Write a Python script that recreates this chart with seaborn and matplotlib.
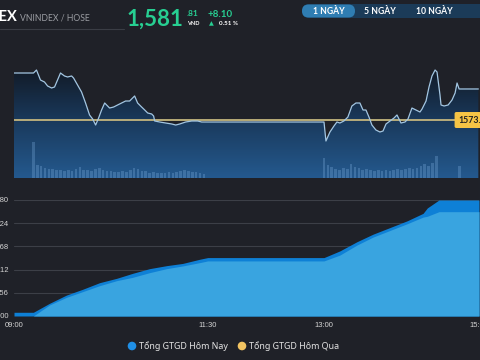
import numpy as np
import pandas as pd
import matplotlib
matplotlib.use("Agg")
import matplotlib.pyplot as plt
import seaborn as sns
from matplotlib.colors import LinearSegmentedColormap
from matplotlib.patches import Polygon, FancyBboxPatch, Circle
from matplotlib.transforms import IdentityTransform

# ---------------- data ----------------
# minutes after 09:00
price_minutes = [0, 15.1, 17.4, 20.5, 23.6, 26.0, 29.1, 31.4, 33.7, 36.0, 39.1, 41.5, 44.6, 46.1,
                 49.2, 52.3, 55.4, 58.5, 60.9, 63.2, 65.5, 67.8, 70.2, 74.0, 77.1, 80.2, 83.3,
                 86.4, 89.5, 93.4, 95.7, 98.8, 101.2, 103.5, 106.6, 108.1, 108.9, 112.8, 117.4,
                 122.1, 125.2, 128.3, 132.9, 137.6, 142.2, 145.3, 148.4, 240.0, 241.5, 244.6,
                 247.7, 250.0, 252.3, 255.4, 258.5, 261.6, 264.7, 267.8, 270.2, 272.5, 274.8,
                 277.1, 280.2, 283.3, 285.7, 288.0, 291.1, 294.2, 296.5, 299.6, 302.7, 305.0,
                 308.1, 311.2, 314.3, 315.9, 319.0, 321.3, 323.6, 326.0, 327.5, 329.8, 330.6,
                 333.0, 336.1, 339.1, 341.5, 343.0, 344.6, 359.5]
price_values = [1585.98, 1585.98, 1586.76, 1584.15, 1583.63, 1582.59, 1582.07, 1582.33, 1584.15,
                1585.98, 1585.20, 1584.94, 1585.20, 1584.68, 1582.85, 1581.02, 1578.15, 1575.02,
                1573.97, 1572.40, 1574.23, 1576.32, 1578.15, 1576.84, 1577.10, 1577.63, 1578.15,
                1578.67, 1578.67, 1579.98, 1578.15, 1577.10, 1576.32, 1575.54, 1575.28, 1574.75,
                1573.45, 1573.19, 1572.93, 1572.67, 1572.40, 1572.67, 1573.19, 1573.45, 1573.45,
                1573.19, 1573.19, 1573.19, 1568.23, 1570.58, 1572.14, 1573.19, 1572.93, 1573.45,
                1574.49, 1577.37, 1578.15, 1578.15, 1576.32, 1576.32, 1574.49, 1572.40, 1571.10,
                1570.58, 1570.84, 1572.67, 1573.45, 1574.23, 1575.02, 1572.93, 1573.19, 1573.97,
                1576.84, 1576.32, 1575.80, 1576.58, 1578.67, 1582.33, 1585.20, 1586.76, 1586.24,
                1580.24, 1577.63, 1577.37, 1577.63, 1578.93, 1580.76, 1583.37, 1581.81, 1581.81]
ref_price = 1573.71

vol_minutes_am = list(range(15, 148, 3))
vol_am = [18, 6.5, 6, 5, 4.5, 4.5, 4, 4, 3.5, 4, 3.5, 4.5, 5.5, 4, 4, 3.5, 4.5, 5, 4, 3.5,
          3.5, 3, 3, 3.5, 3, 4, 5, 4.5, 3.5, 3.5, 2.5, 3, 2.5, 2.5, 2.5, 3, 2.5, 3, 3.5, 4,
          3.5, 3, 3, 2.5, 2]
vol_minutes_pm = list(range(240, 328, 3)) + [345]
vol_pm = [10, 6.5, 5.5, 4.5, 4, 5, 4.5, 7, 5.5, 5, 4, 4.5, 4, 3.5, 4, 3.5, 4, 3.5, 4, 4.5,
          4, 4.5, 5, 4.5, 5, 6, 7, 6, 7.5, 11, 6]

total_minutes = [0, 15, 27.5, 40.7, 53.1, 66.3, 79.5, 91.9, 105, 118.2, 130.6, 143.8, 150,
                 240, 252.3, 265.5, 277.9, 291.1, 304.3, 316.7, 320, 329, 360]
total_today = [0.89, 0.89, 3.04, 5.03, 6.40, 7.99, 9.03, 10.23, 11.35, 12.07, 12.60, 13.60, 14.00,
               14.00, 15.60, 17.80, 19.60, 21.20, 22.80, 24.60, 25.90, 27.80, 27.80]
total_matched = [0, 0, 2.64, 4.48, 5.83, 7.27, 8.47, 9.27, 10.39, 11.35, 11.99, 12.79, 13.20,
                 13.20, 14.60, 17.00, 18.90, 20.50, 22.10, 23.70, 23.90, 25.00, 25.00]

y_ticks = [0, 5.56, 11.12, 16.68, 22.24, 27.80]
y_tick_labels = ["0.00", "5.56", "11.12", "16.68", "22.24", "27.80"]
x_ticks = [0, 150, 240, 360]
x_tick_labels = ["09:00", "11:30", "13:00", "15:00"]
legend_labels = ["Tổng GTGD Hôm Nay", "Tổng GTGD Hôm Qua"]
buttons = ["1 NGÀY", "5 NGÀY", "10 NGÀY", "1 THÁNG"]

# ---------------- style ----------------
BG = "#1f2128"
sns.set_theme(style="dark", rc={"figure.facecolor": BG, "axes.facecolor": BG,
                                "savefig.facecolor": BG})
plt.rcParams['font.family'] = ['Noto Sans', 'DejaVu Sans']
HEAD = ['Lato', 'DejaVu Sans']

W, H = 480, 360
fig = plt.figure(figsize=(4.8, 3.6), dpi=100)


def fx(x):
    return x / W


def fy(y):
    return 1 - y / H


# ---------------- upper chart ----------------
ax = fig.add_axes([fx(14), fy(178), fx(465), (178 - 65) / H])
ylo, yhi = 1558.57, 1588.07
ax.set_xlim(0, 360)
ax.set_ylim(ylo, yhi)
ax.set_facecolor("none")

cmap = LinearSegmentedColormap.from_list("g", ["#111823", "#1a3a5d", "#24598e"])
grad = np.linspace(0, 1, 200).reshape(-1, 1)
im = ax.imshow(grad, extent=[0, 360, ylo, yhi], cmap=cmap, aspect="auto",
               origin="upper", zorder=1)
verts = [(price_minutes[0], ylo)] + list(zip(price_minutes, price_values)) + [(price_minutes[-1], ylo)]
poly = Polygon(verts, closed=True, facecolor="none", edgecolor="none")
ax.add_patch(poly)
im.set_clip_path(poly)

ax.axhline(ref_price, color="#c4b67e", lw=1.3, zorder=3)
sns.lineplot(x=price_minutes, y=price_values, ax=ax, color="#a3c6e2", linewidth=0.9,
             zorder=4)
ax.annotate("1573.71", xy=(0.955, ref_price), xycoords=("axes fraction", "data"),
            ha="left", va="center", fontsize=6.3, fontweight="bold", color="#222222",
            family=HEAD,
            bbox=dict(boxstyle="round,pad=0.4,rounding_size=0.2", fc="#f6c445", ec="none"),
            annotation_clip=False, zorder=6)
ax.set_xticks([])
ax.set_yticks([])
for s in ax.spines.values():
    s.set_visible(False)
ax.set_xlabel("")
ax.set_ylabel("")

axv = ax.twinx()
axv.set_ylim(0, 56.5)
axv.bar(vol_minutes_am, vol_am, width=2.0, color="#7fb0e0", alpha=0.3, linewidth=0, zorder=2)
axv.bar(vol_minutes_pm, vol_pm, width=2.0, color="#7fb0e0", alpha=0.3, linewidth=0, zorder=2)
axv.set_yticks([])
for s in axv.spines.values():
    s.set_visible(False)

# ---------------- lower chart ----------------
ax2 = fig.add_axes([fx(14), fy(316), fx(465), (316 - 200) / H])
ax2.set_facecolor("none")
ax2.set_xlim(0, 360)
ax2.set_ylim(0, 27.8)
for t in y_ticks:
    ax2.axhline(t, color="#3c3f47", lw=0.8, zorder=1)
ax2.fill_between(total_minutes, 0, total_today, color="#0e80d6", lw=0, zorder=2)
ax2.fill_between(total_minutes, 0, total_matched, color="#39a4e0", lw=0, zorder=3)
ax2.set_xticks(x_ticks)
ax2.set_xticklabels(x_tick_labels)
ax2.set_yticks(y_ticks)
ax2.set_yticklabels(y_tick_labels)
ax2.tick_params(axis="both", length=0, colors="#d4d4d4", labelsize=5.5)
ax2.tick_params(axis="x", pad=4.5)
ax2.tick_params(axis="y", pad=3.6)
for lab in ax2.get_xticklabels() + ax2.get_yticklabels():
    lab.set_family("Liberation Sans")
for s in ax2.spines.values():
    s.set_visible(False)
ax2.grid(False)

# ---------------- legend ----------------
fig.add_artist(Circle((132, H - 346), 3.6, transform=IdentityTransform(), color="#1f8fe6"))
fig.text(fx(139), fy(346), legend_labels[0], ha="left", va="center", fontsize=6.4,
         color="#e2e2e2")
fig.add_artist(Circle((242, H - 346), 3.6, transform=IdentityTransform(), color="#f2c462"))
fig.text(fx(249), fy(346), legend_labels[1], ha="left", va="center", fontsize=6.4,
         color="#e2e2e2")

# ---------------- header ----------------
fig.text(fx(16.5), fy(17), "VNINDEX", ha="right", va="center", fontsize=10.5,
         fontweight="bold", color="#ffffff", family=HEAD)
fig.text(fx(20), fy(18), "VNINDEX / HOSE", ha="left", va="center", fontsize=6.2,
         color="#9a9ca2", family=HEAD)
fig.add_artist(plt.Line2D([fx(0), fx(124)], [fy(28.5), fy(28.5)], color="#3a3d45", lw=0.8))
GREEN = "#27cf92"
fig.text(fx(127), fy(19), "1,581", ha="left", va="center", fontsize=16, fontweight="bold",
         color=GREEN, family=HEAD)
fig.text(fx(187), fy(14), ".81", ha="left", va="center", fontsize=6.0, fontweight="bold",
         color=GREEN, family=HEAD)
fig.text(fx(187.5), fy(23.5), "VND", ha="left", va="center", fontsize=4.0, fontweight="bold",
         color="#ffffff", family=HEAD)
fig.text(fx(207), fy(14.5), "+8.10", ha="left", va="center", fontsize=7.0, fontweight="bold",
         color=GREEN, family=HEAD)
fig.text(fx(209), fy(24), "▲", ha="left", va="center", fontsize=4.5, color=GREEN,
         family=["DejaVu Sans"])
fig.text(fx(219), fy(23.5), "0.51 %", ha="left", va="center", fontsize=4.5, fontweight="bold",
         color="#ffffff", family=HEAD)

# buttons
fig.add_artist(FancyBboxPatch((302, H - 18), 200, 14, boxstyle="round,pad=0,rounding_size=7",
                              transform=IdentityTransform(), fc="#1b3b58", ec="none"))
fig.add_artist(FancyBboxPatch((302, H - 17.5), 53, 13, boxstyle="round,pad=0,rounding_size=6.5",
                              transform=IdentityTransform(), fc="#2f7db2", ec="none"))
for lab, cx in zip(buttons, [328.5, 380, 434, 499]):
    fig.text(fx(cx), fy(11), lab, ha="center", va="center", fontsize=6.2, fontweight="bold",
             color="#ffffff", family=HEAD)

fig.savefig("out.png", dpi=100)
